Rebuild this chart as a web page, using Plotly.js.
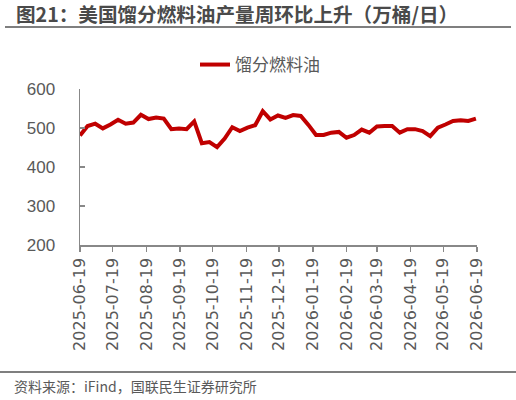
<!DOCTYPE html>
<html>
<head>
<meta charset="utf-8">
<script src="https://cdn.plot.ly/plotly-3.0.1.min.js"></script>
<style>
html,body{margin:0;padding:0;background:#fff;}
#chart{width:516px;height:400px;}
</style>
</head>
<body>
<div id="chart"></div>
<script>
const dates = [
  "2025-06-19","2025-06-26","2025-07-03","2025-07-10","2025-07-17","2025-07-24","2025-07-31",
  "2025-08-07","2025-08-14","2025-08-21","2025-08-28","2025-09-04","2025-09-11","2025-09-18",
  "2025-09-25","2025-10-02","2025-10-09","2025-10-16","2025-10-23","2025-10-30","2025-11-06",
  "2025-11-13","2025-11-20","2025-11-27","2025-12-04","2025-12-11","2025-12-18","2025-12-25",
  "2026-01-01","2026-01-08","2026-01-15","2026-01-22","2026-01-29","2026-02-05","2026-02-12",
  "2026-02-19","2026-02-26","2026-03-05","2026-03-12","2026-03-19","2026-03-26","2026-04-02",
  "2026-04-09","2026-04-16","2026-04-23","2026-04-30","2026-05-07","2026-05-14","2026-05-21",
  "2026-05-28","2026-06-04","2026-06-11","2026-06-18"
];
const distillate = [
  481,505,511,499,509,521,511,
  514,534,523,527,524,497,499,
  497,517,461,464,451,473,502,
  492,501,507,543,522,532,526,
  533,531,508,482,482,488,490,
  475,482,496,488,504,505,505,
  488,497,497,492,479,501,509,
  518,520,518,524
];
const tickDates = [
  "2025-06-19","2025-07-19","2025-08-19","2025-09-19","2025-10-19","2025-11-19","2025-12-19",
  "2026-01-19","2026-02-19","2026-03-19","2026-04-19","2026-05-19","2026-06-19"
];
const seriesName = "馏分燃料油";
const titleText = "图21：美国馏分燃料油产量周环比上升（万桶/日）";
const sourceText = "资料来源：iFind，国联民生证券研究所";

const W = 516, H = 400;
const L = 80, R = 39, T = 89, B = 155;
const pw = W - L - R, ph = H - T - B;
const px = x => (x - L) / pw;
const py = y => (H - B - y) / ph;

const trace = {
  x: dates, y: distillate, type: 'scatter', mode: 'lines', name: seriesName,
  line: {color: '#C00000', width: 4}
};

const layout = {
  width: W, height: H,
  margin: {l: L, r: R, t: T, b: B},
  paper_bgcolor: '#fff', plot_bgcolor: '#fff',
  font: {family: 'Liberation Sans, "Noto Sans CJK SC", sans-serif', color: '#595959', size: 16},
  title: {
    text: '<b>' + titleText + '</b>',
    xref: 'container', yref: 'container',
    x: 16 / W, xanchor: 'left', y: 1 - 15 / H, yanchor: 'middle',
    font: {family: '"Noto Sans CJK SC", sans-serif', size: 19.6, color: '#4a4a4a'}
  },
  showlegend: true,
  legend: {
    orientation: 'h', x: px(260), xanchor: 'center', y: py(65), yanchor: 'middle',
    font: {family: '"Noto Sans CJK SC", sans-serif', size: 17, color: '#595959'},
    bgcolor: 'rgba(0,0,0,0)'
  },
  xaxis: {
    type: 'date', range: ['2025-06-19', '2026-06-19'],
    tickmode: 'array', tickvals: tickDates, ticktext: tickDates,
    tickangle: -90, ticks: 'outside', ticklen: 5, tickcolor: '#888', tickwidth: 1.5,
    showline: true, linecolor: '#888', linewidth: 1.5,
    showgrid: false, zeroline: false,
    tickfont: {size: 16, color: '#595959', family: '"DejaVu Sans", sans-serif'}
  },
  yaxis: {
    range: [200, 600], tickmode: 'array', tickvals: [200, 300, 400, 500, 600],
    ticks: 'inside', ticklen: 5, tickcolor: '#888', tickwidth: 1.5,
    showline: true, linecolor: '#888', linewidth: 1.5,
    showgrid: false, zeroline: false,
    ticklabelstandoff: 20,
    tickfont: {size: 17, color: '#595959', family: 'Liberation Sans, sans-serif'}
  },
  shapes: [
    {type: 'line', xref: 'paper', yref: 'paper', x0: px(5), x1: px(511), y0: py(27), y1: py(27),
     line: {color: '#7f7f7f', width: 2}},
    {type: 'line', xref: 'paper', yref: 'paper', x0: px(0), x1: px(516), y0: py(372), y1: py(372),
     line: {color: '#7f7f7f', width: 2}}
  ],
  annotations: [
    {text: sourceText, xref: 'paper', yref: 'paper', x: px(12), y: py(386),
     xanchor: 'left', yanchor: 'middle', showarrow: false,
     font: {family: '"Noto Sans CJK SC", sans-serif', size: 14, color: '#595959'}}
  ]
};

Plotly.newPlot('chart', [trace], layout, {displayModeBar: false, staticPlot: true});
</script>
</body>
</html>
